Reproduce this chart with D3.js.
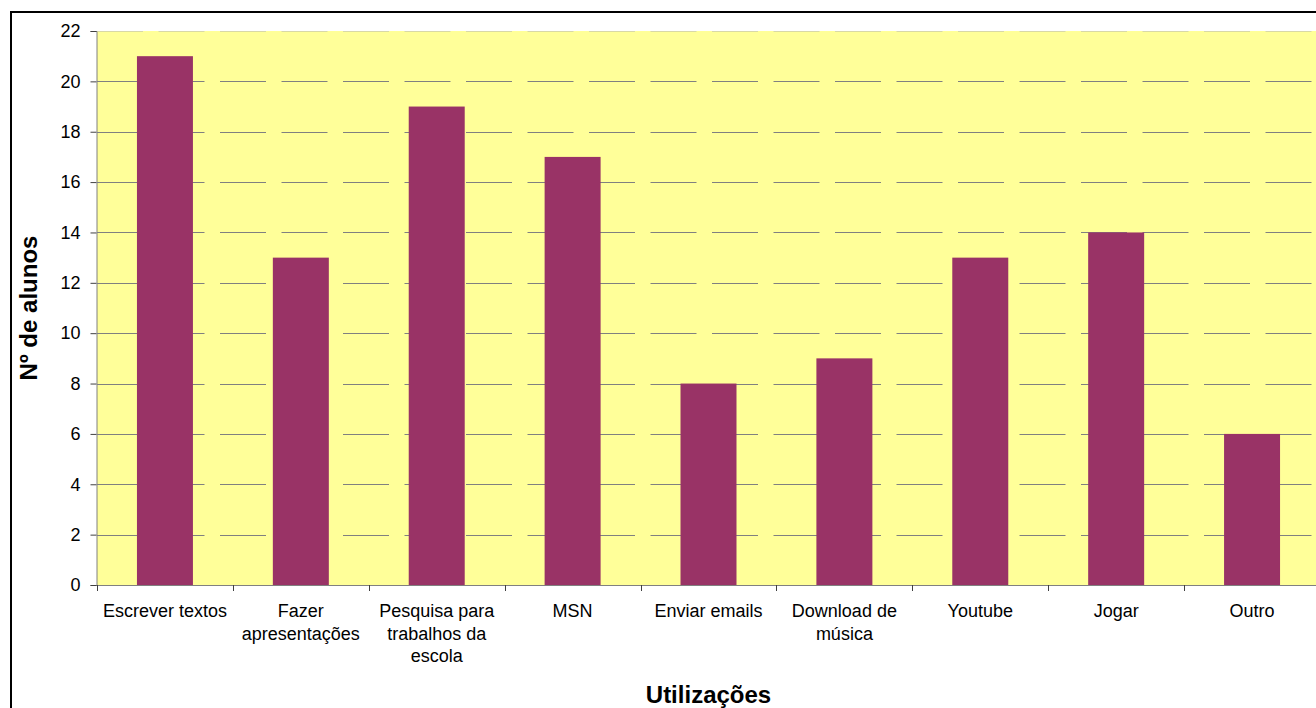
<!DOCTYPE html>
<html>
<head>
<meta charset="utf-8">
<script src="https://cdn.jsdelivr.net/npm/d3@7"></script>
<style>
  html, body { margin: 0; padding: 0; background: #ffffff; overflow: hidden; }
  svg { display: block; font-family: "Liberation Sans", Arial, sans-serif; }
</style>
</head>
<body>
<svg id="chart" width="1316" height="708"></svg>
<script>
// Usos do computador pelos alunos
const categories = [
  "Escrever textos",
  "Fazer\napresentações",
  "Pesquisa para\ntrabalhos da\nescola",
  "MSN",
  "Enviar emails",
  "Download de\nmúsica",
  "Youtube",
  "Jogar",
  "Outro"
];
const alunos = [21, 13, 19, 17, 8, 9, 13, 14, 6];
const yTicks = [0, 2, 4, 6, 8, 10, 12, 14, 16, 18, 20, 22];
const xTitle = "Utilizações";
const yTitle = "Nº de alunos";

const svg = d3.select("#chart");
const plot = { left: 97, right: 1320, top: 31, bottom: 585 };

// chart frame
svg.append("rect")
  .attr("x", 11).attr("y", 12)
  .attr("width", 1400).attr("height", 800)
  .attr("fill", "#ffffff")
  .attr("stroke", "#000000").attr("stroke-width", 2);

const x = d3.scaleBand()
  .domain(categories)
  .range([plot.left, plot.right])
  .paddingInner(0.588)
  .paddingOuter(0.294);

const y = d3.scaleLinear()
  .domain([0, 22])
  .range([plot.bottom, plot.top]);

// plot area
svg.append("rect")
  .attr("x", plot.left).attr("y", plot.top)
  .attr("width", plot.right - plot.left)
  .attr("height", plot.bottom - plot.top)
  .attr("fill", "#ffff99");

// dashed gridlines
svg.append("g")
  .selectAll("line")
  .data(yTicks.filter(d => d > 0))
  .join("line")
  .attr("x1", plot.left).attr("x2", plot.right)
  .attr("y1", d => Math.round(y(d)) + 0.5)
  .attr("y2", d => Math.round(y(d)) + 0.5)
  .attr("stroke", d => d === 22 ? "#d9d9a6" : "#808080")
  .attr("stroke-width", 1)
  .attr("stroke-dasharray", "46,15.5");

// bars
svg.append("g")
  .selectAll("rect")
  .data(alunos)
  .join("rect")
  .attr("x", (d, i) => x(categories[i]))
  .attr("y", d => y(d))
  .attr("width", x.bandwidth())
  .attr("height", d => y(0) - y(d))
  .attr("fill", "#993366");

// y axis
const yAxis = d3.axisLeft(y).tickValues(yTicks).tickSize(6).tickPadding(10);
const gy = svg.append("g")
  .attr("transform", `translate(${plot.left - 0.5},0)`)
  .call(yAxis);
gy.select(".domain").attr("stroke", "#808080");
gy.selectAll(".tick line").attr("stroke", "#404040");
gy.selectAll(".tick text")
  .attr("font-size", 18)
  .attr("fill", "#000000")
  .style("font-family", "'Liberation Sans', Arial, sans-serif");

// x axis: ticks at category boundaries
const boundaries = d3.range(categories.length + 1).map(i => plot.left + i * x.step());
svg.append("line")
  .attr("x1", plot.left).attr("x2", plot.right)
  .attr("y1", plot.bottom + 0.5).attr("y2", plot.bottom + 0.5)
  .attr("stroke", "#808080");
svg.append("g")
  .selectAll("line")
  .data(boundaries)
  .join("line")
  .attr("x1", d => Math.round(d) + 0.5).attr("x2", d => Math.round(d) + 0.5)
  .attr("y1", plot.bottom).attr("y2", plot.bottom + 6)
  .attr("stroke", "#404040");

// category labels
const labels = svg.append("g")
  .selectAll("text")
  .data(categories)
  .join("text")
  .attr("x", d => x(d) + x.bandwidth() / 2)
  .attr("y", 617)
  .attr("text-anchor", "middle")
  .attr("font-size", 18)
  .attr("fill", "#000000");
labels.selectAll("tspan")
  .data(d => d.split("\n"))
  .join("tspan")
  .attr("x", function () { return d3.select(this.parentNode).attr("x"); })
  .attr("dy", (d, i) => i === 0 ? 0 : 22.5)
  .text(d => d);

// axis titles
svg.append("text")
  .attr("x", (plot.left + plot.right) / 2)
  .attr("y", 703)
  .attr("text-anchor", "middle")
  .attr("font-size", 24)
  .attr("font-weight", "bold")
  .text(xTitle);

svg.append("text")
  .attr("transform", `translate(37,${(plot.top + plot.bottom) / 2}) rotate(-90)`)
  .attr("text-anchor", "middle")
  .attr("font-size", 24)
  .attr("font-weight", "bold")
  .text(yTitle);
</script>
</body>
</html>
